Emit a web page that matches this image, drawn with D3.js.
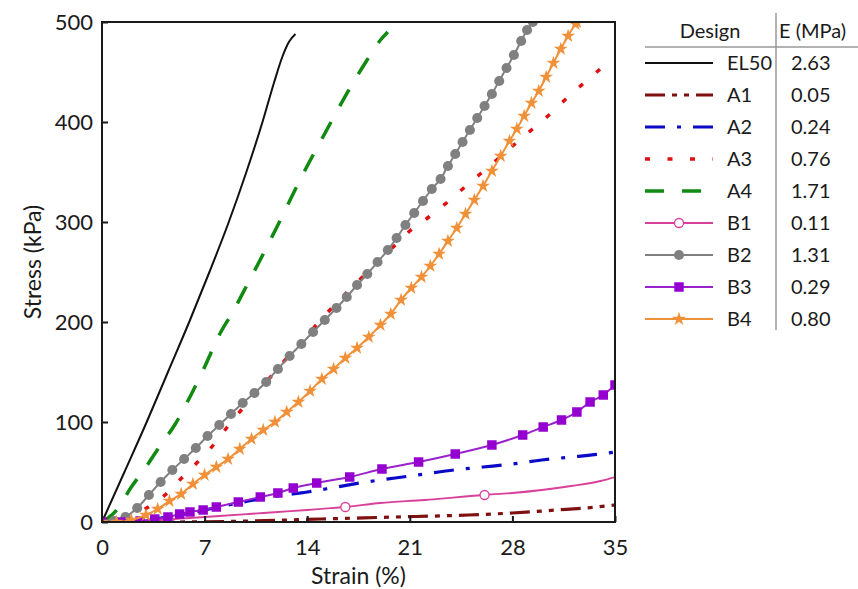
<!DOCTYPE html>
<html>
<head>
<meta charset="utf-8">
<script src="https://cdn.jsdelivr.net/npm/d3@7"></script>
<style>
  body { margin: 0; background: #fff; }
  svg { font-family: Lato, "Open Sans", sans-serif; }
</style>
</head>
<body>
<div id="chart"></div>
<script>
// strain (%) , stress (kPa)
const el50 = [[0,0],[1.5,49],[3.05,100],[4.5,150],[5.95,200],[7.33,250],[8.65,300],[9.85,350],[10.95,400],[11.75,440],[12.3,465],[12.75,480],[13.2,488]];
const a1 = [[0,0],[5,0],[10,1],[15,3],[20,5],[25,7],[28,9],[31,12],[33,14],[35,17]];
const a2 = [[0,0],[2,1],[4,4],[6,9],[8,15],[10,21],[12,26],[14,30],[16,35],[18,40],[20,44],[22,48],[24,52],[26,55],[28,58],[30,62],[32,65],[34,68],[35,70]];
const a3 = [[0,0],[1,2],[2,6],[3.05,14],[4.3,27],[5.3,42],[6.46,59],[7.6,77],[8.5,94],[9.5,112],[10.4,127],[11.5,145],[12.5,162],[13.5,178],[14.5,195],[15.55,212],[16.6,228],[17.7,244],[18.8,260],[19.87,275],[21,291],[22.3,305],[23.5,319],[24.6,333],[25.8,348],[27,363],[28.1,377],[29.3,392],[30.5,407],[31.65,423],[32.8,438],[34,453]];
const a4 = [[0,0],[1,12],[2,35],[3,55],[4,77],[5,98],[6,125],[7,155],[8,187],[9,212],[10,240],[11,268],[12,297],[13,327],[14,356],[15,383],[16,410],[17,436],[18,460],[19,482],[19.5,490]];
const b1 = [[0,0],[2,1],[4,2],[6,4],[8,6],[10,8],[12,10],[14,12],[16.5,15],[19,19],[22,22],[26,27],[28,29],[30,32],[32,36],[34,41],[35,45]];
const b1Marks = [[4.6,1],[16.6,15],[26.1,27]];
const b2 = [[0,0],[0.8,1],[1.6,5],[2.4,14],[3.2,27],[4.0,40],[4.8,52],[5.6,63],[6.4,74],[7.2,86],[8.0,97],[8.8,108],[9.6,119],[10.4,129],[11.2,140],[12.0,153],[12.8,166],[13.6,178],[14.4,190],[15.2,202],[16.0,214],[16.7,225],[17.4,237],[18.1,248],[18.8,260],[19.5,272],[20.1,284],[20.7,297],[21.3,309],[21.9,321],[22.5,333],[23.1,343],[23.6,356],[24.1,368],[24.6,380],[25.1,392],[25.6,404],[26.1,416],[26.6,428],[27.1,441],[27.6,454],[28.1,467],[28.6,481],[29.0,492],[29.4,500]];
const b3 = [[0,0],[1.3,0],[2.6,1],[3.6,3],[4.5,5],[5.3,8],[6.0,10],[6.9,12],[7.8,15],[9.3,20],[10.8,25],[12,29],[13.05,34],[14.65,39],[16.9,45],[19.1,53],[21.6,60],[24.1,68],[26.6,77],[28.7,87],[30.1,95],[31.35,102],[32.4,110],[33.3,120],[34.2,127],[35,137]];
const b4 = [[0,0],[1,0],[2,2],[3,7],[3.8,13],[4.6,21],[5.4,28],[6.2,38],[7.0,47],[7.8,55],[8.6,63],[9.4,73],[10.2,83],[11.0,92],[11.8,100],[12.6,110],[13.4,120],[14.2,131],[15.0,143],[15.8,153],[16.6,164],[17.4,174],[18.2,185],[19.0,197],[19.7,208],[20.4,222],[21.1,234],[21.8,245],[22.4,256],[23.0,268],[23.6,281],[24.2,294],[24.8,308],[25.4,322],[26.0,336],[26.6,351],[27.2,366],[27.8,381],[28.3,393],[28.8,406],[29.3,419],[29.8,431],[30.3,445],[30.8,459],[31.3,473],[31.8,486],[32.3,498],[32.4,500]];

const designs = ['EL50','A1','A2','A3','A4','B1','B2','B3','B4'];
const moduli = ['2.63','0.05','0.24','0.76','1.71','0.11','1.31','0.29','0.80'];
const xTicks = [0,7,14,21,28,35];
const yTicks = [0,100,200,300,400,500];

const W = 858, H = 589;
const margin = { top: 22, right: 243, bottom: 67, left: 102 };

const x = d3.scaleLinear().domain([0,35]).range([margin.left, W - margin.right]);
const y = d3.scaleLinear().domain([0,500]).range([H - margin.bottom, margin.top]);

// look of each design
const styles = {
    EL50: { data: el50, color: '#111', width: 2, dash: null },
    A1:   { data: a1, color: '#7f1010', width: 3.2, dash: '20,7,5,7,5,7' },
    A2:   { data: a2, color: '#0a0ac8', width: 3.2, dash: '20,12,4,12' },
    A3:   { data: a3, color: '#e01010', width: 3.5, dash: '5,17.5' },
    A4:   { data: a4, color: '#108a10', width: 3.5, dash: '19,18' },
    B1:   { data: b1, marks: b1Marks, color: '#d9409a', width: 1.8, dash: null, symbol: 'open' },
    B2:   { data: b2, color: '#808080', width: 2, dash: null, symbol: d3.symbolCircle, size: 80 },
    B3:   { data: b3, color: '#9a22cc', width: 2, dash: null, symbol: d3.symbolSquare, size: 90, fill: '#9400d0' },
    B4:   { data: b4, color: '#f0913a', width: 2, dash: null, symbol: d3.symbolStar, size: 60 }
};

const svg = d3.select('#chart').append('svg')
    .attr('width', W)
    .attr('height', H);

svg.append('clipPath').attr('id', 'plot-clip')
    .append('rect')
    .attr('x', x(0)).attr('y', y(500))
    .attr('width', x(35) - x(0)).attr('height', y(0) - y(500));

const plot = svg.append('g').attr('clip-path', 'url(#plot-clip)');

const line = d3.line()
    .x(d => x(d[0]))
    .y(d => y(d[1]))
    .curve(d3.curveMonotoneX);

designs.forEach(name => {
    const s = styles[name];
    plot.append('path')
        .datum(s.data)
        .attr('fill', 'none')
        .attr('stroke', s.color)
        .attr('stroke-width', s.width)
        .attr('stroke-dasharray', s.dash)
        .attr('d', line);

    if (s.symbol === 'open') {
        plot.selectAll(null).data(s.marks).enter().append('circle')
            .attr('cx', d => x(d[0]))
            .attr('cy', d => y(d[1]))
            .attr('r', 4.5)
            .attr('fill', '#fff')
            .attr('stroke', s.color)
            .attr('stroke-width', 1.3);
    } else if (s.symbol) {
        plot.selectAll(null).data(s.data).enter().append('path')
            .attr('transform', d => `translate(${x(d[0])},${y(d[1])})`)
            .attr('d', d3.symbol().type(s.symbol).size(s.size))
            .attr('fill', s.fill || s.color);
    }
});

// frame
svg.append('rect')
    .attr('x', x(0)).attr('y', y(500))
    .attr('width', x(35) - x(0)).attr('height', y(0) - y(500))
    .attr('fill', 'none')
    .attr('stroke', '#1a1a1a')
    .attr('stroke-width', 2);

const xAxis = d3.axisBottom(x).tickValues(xTicks).tickSizeInner(-6).tickSizeOuter(0).tickPadding(17);
const yAxis = d3.axisLeft(y).tickValues(yTicks).tickSizeInner(-6).tickSizeOuter(0).tickPadding(9);

const xAxisG = svg.append('g')
    .attr('transform', `translate(0,${y(0)})`)
    .call(xAxis);
const yAxisG = svg.append('g')
    .attr('transform', `translate(${x(0)},0)`)
    .call(yAxis);

[xAxisG, yAxisG].forEach(g => {
    g.select('.domain').remove();
    g.selectAll('line').attr('stroke', '#1a1a1a').attr('stroke-width', 2);
    g.selectAll('text')
        .attr('font-family', 'Lato, sans-serif')
        .attr('font-size', 22)
        .attr('fill', '#1a1a1a');
});

svg.append('text')
    .attr('x', (x(0) + x(35)) / 2)
    .attr('y', 584)
    .attr('text-anchor', 'middle')
    .attr('font-size', 23)
    .attr('fill', '#1a1a1a')
    .text('Strain (%)');

svg.append('text')
    .attr('transform', `translate(41,${(y(0) + y(500)) / 2 - 10}) rotate(-90)`)
    .attr('text-anchor', 'middle')
    .attr('font-size', 23)
    .attr('fill', '#1a1a1a')
    .text('Stress (kPa)');

// legend table
const legend = svg.append('g').attr('font-size', 20).attr('fill', '#1a1a1a');

legend.append('text').attr('x', 710).attr('y', 38).attr('text-anchor', 'middle').text('Design');
legend.append('text').attr('x', 779).attr('y', 38).text('E (MPa)');
legend.append('line')
    .attr('x1', 645).attr('x2', 858).attr('y1', 47).attr('y2', 47)
    .attr('stroke', '#999').attr('stroke-width', 1.5);
legend.append('line')
    .attr('x1', 776).attr('x2', 776).attr('y1', 13).attr('y2', 330)
    .attr('stroke', '#999').attr('stroke-width', 1.5);

const rows = legend.selectAll('g.row')
    .data(designs)
    .enter().append('g')
    .attr('class', 'row')
    .attr('transform', (d, i) => `translate(0,${63 + i * 32})`);

rows.append('line')
    .attr('x1', 645).attr('x2', 713)
    .attr('stroke', d => styles[d].color)
    .attr('stroke-width', d => styles[d].width)
    .attr('stroke-dasharray', d => styles[d].dash);

rows.filter(d => styles[d].symbol === 'open').append('circle')
    .attr('cx', 679).attr('r', 4.5)
    .attr('fill', '#fff')
    .attr('stroke', d => styles[d].color)
    .attr('stroke-width', 1.3);

rows.filter(d => styles[d].symbol && styles[d].symbol !== 'open').append('path')
    .attr('transform', 'translate(679,0)')
    .attr('d', d => d3.symbol().type(styles[d].symbol).size(styles[d].size)())
    .attr('fill', d => styles[d].fill || styles[d].color);

rows.append('text')
    .attr('x', 727).attr('dy', '0.35em')
    .text(d => d);

rows.append('text')
    .attr('x', 791).attr('dy', '0.35em')
    .text((d, i) => moduli[i]);
</script>
</body>
</html>
